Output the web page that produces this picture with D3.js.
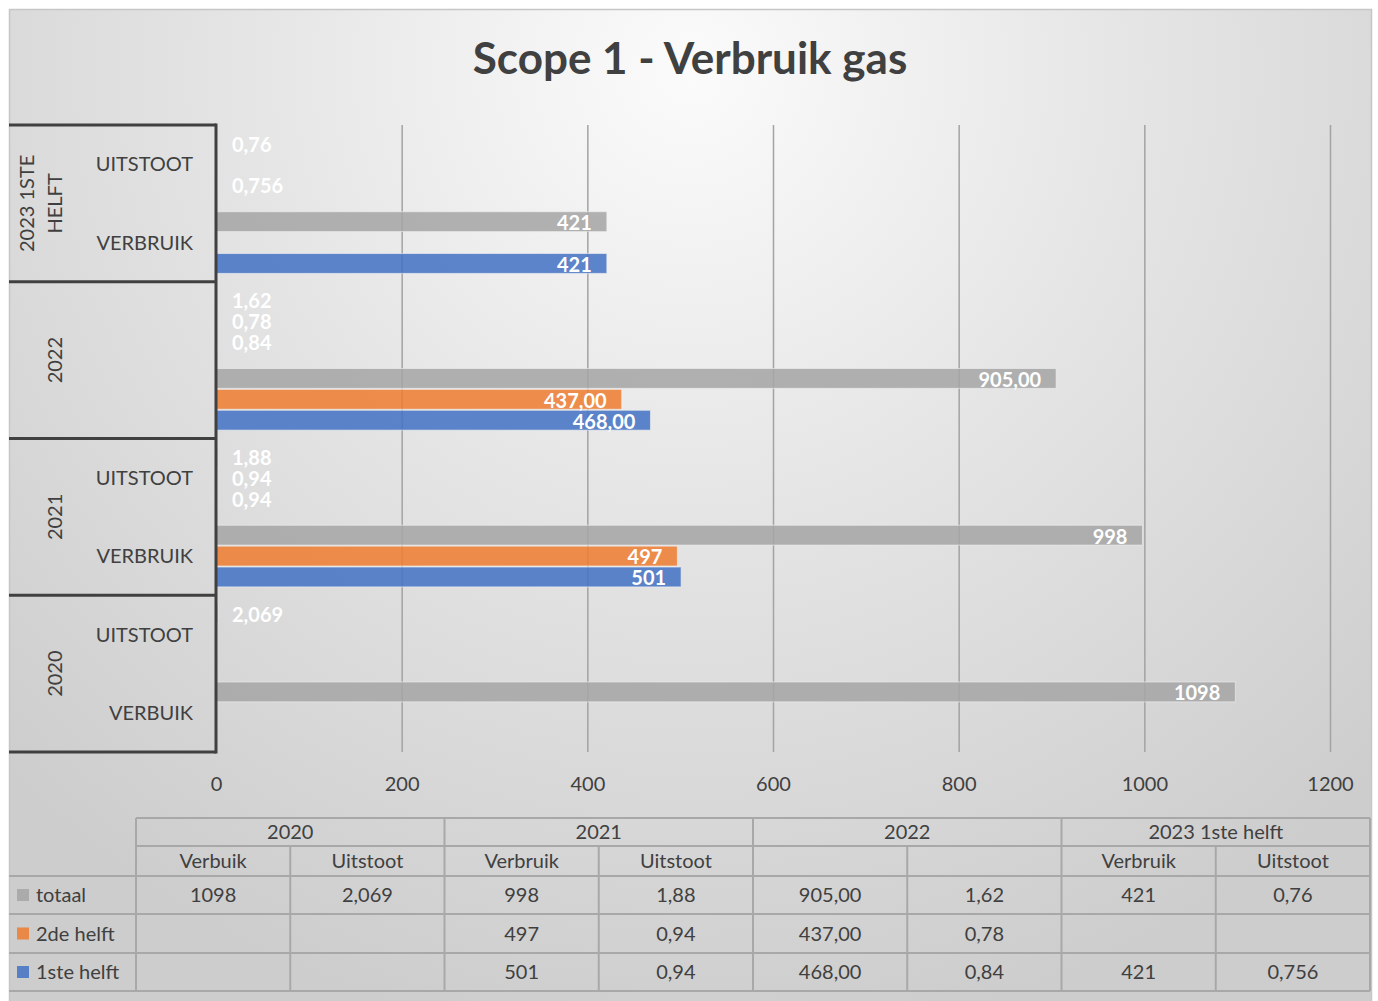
<!DOCTYPE html>
<html>
<head>
<meta charset="utf-8">
<script src="https://cdn.jsdelivr.net/npm/d3@7"></script>
<style>
  body { margin: 0; background: #fff; }
  text { font-family: Lato, "Open Sans", sans-serif; }
</style>
</head>
<body>
<div id="chart"></div>
<script>
var years = ["2020", "2021", "2022", "2023 1ste helft"];
var yearAxisLabels = [["2020"], ["2021"], ["2022"], ["2023 1STE", "HELFT"]];
var subAxisLabels = ["VERBUIK", "UITSTOOT", "VERBRUIK", "UITSTOOT", "", "", "VERBRUIK", "UITSTOOT"];
var subTableLabels = ["Verbuik", "Uitstoot", "Verbruik", "Uitstoot", "", "", "Verbruik", "Uitstoot"];
var seriesNames = ["totaal", "2de helft", "1ste helft"];
var totaal = ["1098", "2,069", "998", "1,88", "905,00", "1,62", "421", "0,76"];
var tweedeHelft = ["", "", "497", "0,94", "437,00", "0,78", "", ""];
var eersteHelft = ["", "", "501", "0,94", "468,00", "0,84", "421", "0,756"];
var xTicks = [0, 200, 400, 600, 800, 1000, 1200];
var colors = ["#a5a5a5", "#ed7d31", "#4472c4"];

var seriesValues = [totaal, tweedeHelft, eersteHelft];
function num(s) { return +s.replace(",", "."); }

var W = 1378, H = 1001;
var plot = {left: 216, right: 1330, top: 125, bottom: 752};
var textColor = "#404040";

var svg = d3.select("#chart").append("svg")
    .attr("width", W).attr("height", H);

// background
var defs = svg.append("defs");
var grad = defs.append("radialGradient").attr("id", "bg")
    .attr("gradientUnits", "userSpaceOnUse")
    .attr("cx", 690).attr("cy", 70).attr("r", 980);
grad.append("stop").attr("offset", 0).attr("stop-color", "#fbfbfb");
grad.append("stop").attr("offset", 0.45).attr("stop-color", "#e5e5e5");
grad.append("stop").attr("offset", 1).attr("stop-color", "#cdcdcd");

svg.append("rect").attr("x", 9.5).attr("y", 9.5).attr("width", 1362).attr("height", 995)
    .attr("fill", "url(#bg)").attr("stroke", "#c6c6c6").attr("stroke-width", 1.5);

// title
svg.append("text").attr("x", 690).attr("y", 74).attr("text-anchor", "middle")
    .attr("font-size", "44px").attr("font-weight", "bold").attr("fill", textColor)
    .text("Scope 1 - Verbruik gas");

// scales
var x = d3.scaleLinear().domain([0, 1200]).range([plot.left, plot.right]);
var cols = d3.range(totaal.length).reverse();   // top to bottom
var y = d3.scaleBand().domain(cols).range([plot.top, plot.bottom]);
var yGroup = d3.scaleBand().domain(d3.range(years.length).reverse()).range([plot.top, plot.bottom]);
var ySeries = d3.scaleBand().domain(d3.range(seriesNames.length)).range([0, y.bandwidth()])
    .paddingInner(0.05).paddingOuter(0.4);

// gridlines
svg.append("g").attr("class", "grid")
    .attr("transform", "translate(0," + plot.bottom + ")")
    .call(d3.axisBottom(x).tickValues(xTicks.slice(1)).tickSize(-(plot.bottom - plot.top)).tickFormat(""))
    .call(function(g) {
      g.select(".domain").remove();
      g.selectAll("line").attr("stroke", "#a3a3a3").attr("stroke-width", 1.5);
    });

// x tick labels
svg.append("g")
    .attr("transform", "translate(0," + plot.bottom + ")")
    .call(d3.axisBottom(x).tickValues(xTicks).tickSize(0).tickPadding(25).tickFormat(d3.format("d")))
    .call(function(g) {
      g.select(".domain").remove();
      g.selectAll("text").attr("font-size", "20px").attr("fill", textColor)
        .attr("font-family", "Lato, 'Open Sans', sans-serif");
    });

// bars
var barData = [];
seriesValues.forEach(function(vals, s) {
  vals.forEach(function(v, c) {
    if (v !== "") barData.push({s: s, c: c, label: v, value: num(v)});
  });
});

svg.append("g").selectAll("rect").data(barData).enter().append("rect")
    .attr("x", x(0))
    .attr("y", function(d) { return y(d.c) + ySeries(d.s); })
    .attr("width", function(d) { return x(d.value) - x(0); })
    .attr("height", ySeries.bandwidth())
    .attr("fill", function(d) { return colors[d.s]; })
    .attr("fill-opacity", 0.86)
    .attr("stroke", "#f2f2f2").attr("stroke-opacity", 0.6).attr("stroke-width", 1);

// data labels
svg.append("g").selectAll("text").data(barData).enter().append("text")
    .attr("y", function(d) { return y(d.c) + ySeries(d.s) + ySeries.bandwidth() / 2; })
    .attr("dy", "0.42em")
    .attr("font-size", "20px").attr("font-weight", "bold").attr("fill", "#fff")
    .text(function(d) { return d.label; })
    .each(function(d) {
      var t = d3.select(this);
      var w = this.getComputedTextLength();
      if (x(d.value) - x(0) > w + 24) {
        t.attr("x", x(d.value) - 15).attr("text-anchor", "end");
      } else {
        t.attr("x", x(0) + 16).attr("text-anchor", "start");
      }
    });

// category axis: lines
var axisG = svg.append("g");
axisG.selectAll("line.sep").data(d3.range(years.length + 1)).enter().append("line")
    .attr("x1", 9).attr("x2", plot.left)
    .attr("y1", function(i) { return i < years.length ? yGroup(i) + yGroup.bandwidth() : plot.top; })
    .attr("y2", function(i) { return i < years.length ? yGroup(i) + yGroup.bandwidth() : plot.top; })
    .attr("stroke", textColor).attr("stroke-width", 3);
axisG.append("line")
    .attr("x1", plot.left).attr("x2", plot.left)
    .attr("y1", plot.top - 1.5).attr("y2", plot.bottom + 1.5)
    .attr("stroke", textColor).attr("stroke-width", 3);

// sub category labels
axisG.selectAll("text.sub").data(cols).enter().append("text")
    .attr("x", 193)
    .attr("y", function(c) { return y(c) + y.bandwidth() / 2; })
    .attr("dy", "0.36em").attr("text-anchor", "end")
    .attr("font-size", "20px").attr("fill", textColor)
    .text(function(c) { return subAxisLabels[c]; });

// year labels (rotated)
axisG.selectAll("text.year").data(d3.range(years.length)).enter().append("text")
    .attr("transform", function(i) {
      return "translate(55," + (yGroup(i) + yGroup.bandwidth() / 2) + ") rotate(-90)";
    })
    .attr("text-anchor", "middle").attr("font-size", "20px").attr("fill", textColor)
    .each(function(i) {
      var lines = yearAxisLabels[i];
      var t = d3.select(this);
      lines.forEach(function(l, k) {
        t.append("tspan").attr("x", 0)
          .attr("dy", (k === 0 ? (0.36 - (lines.length - 1) * 1.4) : 1.4) + "em")
          .text(l);
      });
    });

// data table
var tbl = {left: 9, col0: 136, right: 1370, rows: [818, 846, 876, 914, 953, 991]};
var colX = d3.scaleBand().domain(d3.range(totaal.length)).range([tbl.col0, tbl.right]);
var grpX = d3.scaleBand().domain(d3.range(years.length)).range([tbl.col0, tbl.right]);
var lineColor = "#a8a8a8";
var tg = svg.append("g");

// horizontal lines
tg.selectAll("line.h").data(tbl.rows).enter().append("line")
    .attr("x1", function(r, i) { return i < 2 ? tbl.col0 : tbl.left; })
    .attr("x2", tbl.right)
    .attr("y1", function(r) { return r; }).attr("y2", function(r) { return r; })
    .attr("stroke", lineColor).attr("stroke-width", 2);
// group verticals
tg.selectAll("line.g").data(d3.range(years.length + 1)).enter().append("line")
    .attr("x1", function(i) { return i < years.length ? grpX(i) : tbl.right; })
    .attr("x2", function(i) { return i < years.length ? grpX(i) : tbl.right; })
    .attr("y1", tbl.rows[0]).attr("y2", tbl.rows[5])
    .attr("stroke", lineColor).attr("stroke-width", 2);
// sub column verticals
tg.selectAll("line.c").data(d3.range(years.length)).enter().append("line")
    .attr("x1", function(i) { return colX(i * 2 + 1); })
    .attr("x2", function(i) { return colX(i * 2 + 1); })
    .attr("y1", tbl.rows[1]).attr("y2", tbl.rows[5])
    .attr("stroke", lineColor).attr("stroke-width", 2);

function rowMid(r) { return (tbl.rows[r] + tbl.rows[r + 1]) / 2; }

tg.selectAll("text.yr").data(years).enter().append("text")
    .attr("x", function(d, i) { return grpX(i) + grpX.bandwidth() / 2; })
    .attr("y", rowMid(0)).attr("dy", "0.36em").attr("text-anchor", "middle")
    .attr("font-size", "20px").attr("fill", textColor)
    .text(function(d) { return d; });

tg.selectAll("text.subh").data(subTableLabels).enter().append("text")
    .attr("x", function(d, i) { return colX(i) + colX.bandwidth() / 2; })
    .attr("y", rowMid(1)).attr("dy", "0.36em").attr("text-anchor", "middle")
    .attr("font-size", "20px").attr("fill", textColor)
    .text(function(d) { return d; });

seriesNames.forEach(function(name, s) {
  var cy = rowMid(s + 2);
  tg.append("rect").attr("x", 17).attr("y", cy - 6).attr("width", 12).attr("height", 12)
    .attr("fill", colors[s]).attr("fill-opacity", 0.86);
  tg.append("text").attr("x", 36).attr("y", cy).attr("dy", "0.36em")
    .attr("font-size", "20px").attr("fill", textColor).text(name);
  tg.append("g").selectAll("text").data(seriesValues[s]).enter().append("text")
    .attr("x", function(d, i) { return colX(i) + colX.bandwidth() / 2; })
    .attr("y", cy).attr("dy", "0.36em").attr("text-anchor", "middle")
    .attr("font-size", "20px").attr("fill", textColor)
    .text(function(d) { return d; });
});
</script>
</body>
</html>
